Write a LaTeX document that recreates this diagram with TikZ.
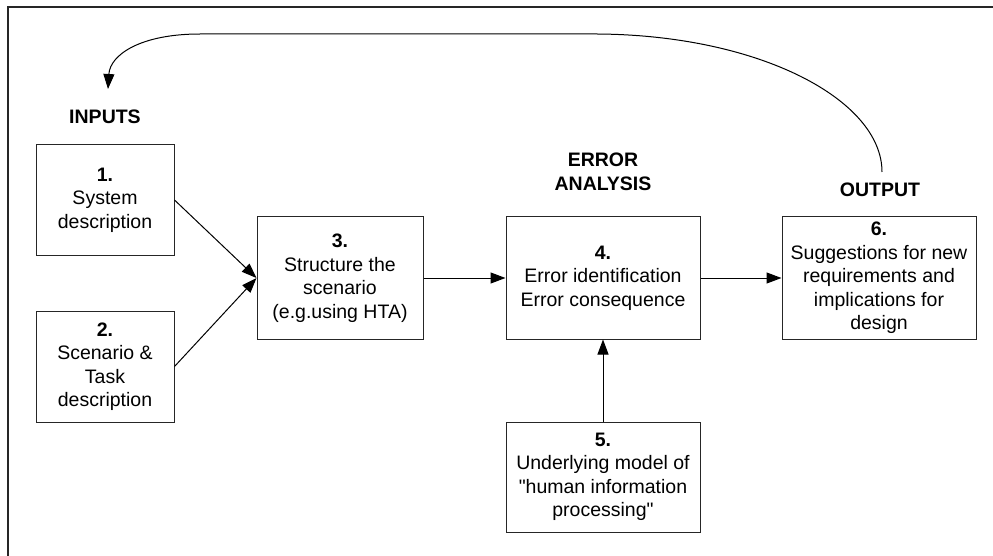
\documentclass[tikz,border=0pt]{standalone}
\usepackage{fontspec}
\setmainfont{Liberation Sans}
\usetikzlibrary{arrows.meta}
\begin{document}
\begin{tikzpicture}[x=1pt,y=-1pt,
  every node/.style={font=\fontsize{19.5}{23.5}\selectfont},
  stepbox/.style={draw=black!85, line width=1pt, rectangle, inner sep=0pt, align=center},
  heading/.style={font=\fontsize{19.5}{23.5}\selectfont\bfseries, align=center, inner sep=0pt},
  flow/.style={line width=1pt, -{Triangle[length=15pt,width=11pt]}}
]
  \useasboundingbox (0,0) rectangle (993,556);
  % outer frame (top and left edges)
  \draw[line width=1.5pt, black!85] (8,556) -- (8,7) -- (993,7);

  % section headings
  \node[heading] (hin) at (105,117) {INPUTS};
  \node[heading] (herr) at (603,172) {ERROR\\ANALYSIS};
  \node[heading] (hout) at (880,190) {OUTPUT};

  % process boxes
  \node[stepbox, minimum width=138, minimum height=110] (b1) at (105,200)
    {\textbf{1.}\\System\\description};
  \node[stepbox, minimum width=138, minimum height=111] (b2) at (105,366.5)
    {\textbf{2.}\\Scenario \&\\Task\\description};
  \node[stepbox, minimum width=166, minimum height=122] (b3) at (340,278)
    {\textbf{3.}\\Structure the\\scenario\\(e.g.using HTA)};
  \node[stepbox, minimum width=194, minimum height=122] (b4) at (603,278)
    {\textbf{4.}\\Error identification\\Error consequence};
  \node[stepbox, minimum width=194, minimum height=110] (b5) at (603,477)
    {\textbf{5.}\\Underlying model of\\\textquotedbl human information\\processing\textquotedbl};
  \node[stepbox, minimum width=194, minimum height=122] (b6) at (879,278)
    {\textbf{6.}\\Suggestions for new\\requirements and\\implications for\\design};

  % connectors
  \draw[flow] (b1.east) -- (b3.west);
  \draw[flow] (b2.east) -- (b3.west);
  \draw[flow] (b3.east) -- (b4.west);
  \draw[flow] (b4.east) -- (b6.west);
  \draw[flow] (b5.north) -- (b4.south);

  % feedback loop from output back to inputs
  \coordinate (loopstart) at (882,172);
  \coordinate (loopend) at (108,89);
  \draw[flow] (loopstart) .. controls (882,100) and (760,35) .. (597,34)
    -- (200,34) .. controls (140,34) and (110,55) .. (loopend);
\end{tikzpicture}
\end{document}
